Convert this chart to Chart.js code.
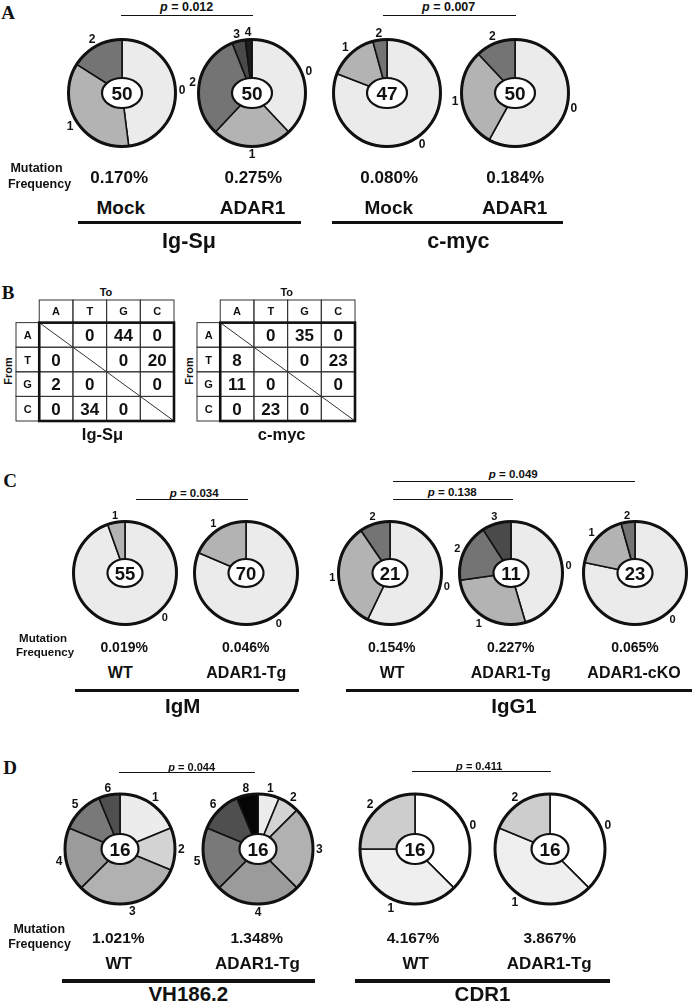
<!DOCTYPE html>
<html><head><meta charset="utf-8">
<script src="https://cdn.jsdelivr.net/npm/chart.js@4.4.1/dist/chart.umd.min.js"></script>
<style>
html,body{margin:0;padding:0;background:#fff;}
#fig{position:relative;width:693px;height:1008px;overflow:hidden;font-family:"Liberation Sans",Arial,sans-serif;font-weight:bold;color:#111;}
.t{position:absolute;white-space:nowrap;line-height:1;transform:translate(-50%,-50%);}
.l{position:absolute;background:#111;}
canvas{position:absolute;}
</style></head><body><div id="fig"></div>
<script>
// ---------- DATA ----------
// clone counts per number of mutations (category labels)
const igSmuCats = ['0','1','2','3','4'];
const igSmuMock = [24,18,8];
const igSmuAdar1 = [19,12,16,2,1];
const cmycCats = ['0','1','2'];
const cmycMock = [38,7,2];
const cmycAdar1 = [29,15,6];
const igmCats = ['0','1'];
const igmWT = [52,3];
const igmTg = [57,13];
const igg1Cats = ['0','1','2','3'];
const igg1WT = [12,7,2];
const igg1Tg = [5,3,2,1];
const igg1cKO = [18,4,1];
const vhWTCats = ['1','2','3','4','5','6'];
const vhWT = [3,2,5,3,2,1];
const vhTgCats = ['1','2','3','4','5','6','8'];
const vhTg = [1,1,4,4,3,2,1];
const cdr1Cats = ['0','1','2'];
const cdr1WT = [6,6,4];
const cdr1Tg = [6,7,3];
// mutation frequencies
const freqA = ['0.170%','0.275%','0.080%','0.184%'];
const freqC = ['0.019%','0.046%','0.154%','0.227%','0.065%'];
const freqD = ['1.021%','1.348%','4.167%','3.867%'];
const groupA = ['Mock','ADAR1','Mock','ADAR1'];
const groupC = ['WT','ADAR1-Tg','WT','ADAR1-Tg','ADAR1-cKO'];
const groupD = ['WT','ADAR1-Tg','WT','ADAR1-Tg'];
const pValues = ['0.012','0.007','0.034','0.049','0.138','0.044','0.411'];
// substitution tables (From row -> To column)
const bases = ['A','T','G','C'];
const igSmuSubs = [[null,0,44,0],[0,null,0,20],[2,0,null,0],[0,34,0,null]];
const cmycSubs  = [[null,0,35,0],[8,null,0,23],[11,0,null,0],[0,23,0,null]];

// ---------- STYLES ----------
const shadeMut = {'0':'#ebebeb','1':'#b3b3b3','2':'#747474','3':'#4a4a4a','4':'#1c1c1c'};
const shadeVH  = {'1':'#ececec','2':'#d3d3d3','3':'#b1b1b1','4':'#9b9b9b','5':'#797979','6':'#4f4f4f','8':'#050505'};
const shadeCDR = {'0':'#ffffff','1':'#efefef','2':'#cdcdcd'};
const FONT = '"Liberation Sans", Arial, sans-serif';

const fig = document.getElementById('fig');
function T(x,y,html,size,extra){
  const d=document.createElement('div'); d.className='t';
  d.style.left=x+'px'; d.style.top=y+'px'; d.style.fontSize=size+'px'; d.innerHTML=html;
  if(extra) Object.assign(d.style, extra);
  fig.appendChild(d);
}
function L(x1,x2,y,h){
  const d=document.createElement('div'); d.className='l';
  d.style.left=x1+'px'; d.style.top=(y-h/2)+'px'; d.style.width=(x2-x1)+'px'; d.style.height=h+'px';
  fig.appendChild(d);
}
function letter(x,y,s){ T(x,y,s,19,{fontFamily:'"Liberation Serif","Times New Roman",serif'}); }
function pLabel(x,y,v,size,x1,x2,ly){ T(x,y,'<i>p</i> = '+v,size); L(x1,x2,ly,1); }

// ---------- PIE PLUGIN ----------
function decoPlugin(cfg){
  return {
    id:'deco',
    afterDatasetsDraw(chart){
      const ctx=chart.ctx;
      const arcs=chart.getDatasetMeta(0).data;
      const p0=arcs[0].getProps(['x','y','outerRadius'],true);
      const x=p0.x, y=p0.y, R=p0.outerRadius;
      ctx.save();
      ctx.strokeStyle='#111'; ctx.fillStyle='#111';
      ctx.beginPath(); ctx.arc(x,y,R,0,Math.PI*2); ctx.lineWidth=3; ctx.stroke();
      ctx.beginPath(); ctx.ellipse(x,y,cfg.rx,cfg.ry,0,0,Math.PI*2);
      ctx.fillStyle='#fff'; ctx.fill(); ctx.lineWidth=2.2; ctx.stroke();
      const total=chart.data.datasets[0].data.reduce((a,b)=>a+b,0);
      ctx.fillStyle='#111'; ctx.textAlign='center'; ctx.textBaseline='alphabetic';
      ctx.font='bold '+cfg.num+'px '+FONT;
      ctx.fillText(String(total), x, y+cfg.num*0.358);
      ctx.font='bold '+cfg.lab+'px '+FONT;
      arcs.forEach((a,i)=>{
        const p=a.getProps(['startAngle','endAngle'],true);
        let m=(p.startAngle+p.endAngle)/2;
        const lab=chart.data.labels[i];
        if(cfg.at && cfg.at[lab]!==undefined) m=(cfg.at[lab]-90)*Math.PI/180;
        const w=ctx.measureText(lab).width, h=cfg.lab*0.72;
        const d=R+3+Math.abs(Math.cos(m))*w/2+Math.abs(Math.sin(m))*h/2;
        ctx.fillText(lab, x+Math.cos(m)*d, y+Math.sin(m)*d+h/2);
      });
      ctx.restore();
    }
  };
}
function pie(cx,cy,R,cats,values,shades,cfg){
  const S=160;
  const cv=document.createElement('canvas'); cv.width=S; cv.height=S;
  cv.style.left=(cx-S/2)+'px'; cv.style.top=(cy-S/2)+'px';
  fig.appendChild(cv);
  const labels=cats.slice(0,values.length);
  new Chart(cv,{
    type:'pie',
    data:{labels:labels,datasets:[{data:values,backgroundColor:labels.map(c=>shades[c]),borderColor:'#111',borderWidth:1.6}]},
    options:{responsive:false,animation:false,events:[],radius:R,layout:{padding:0},
      plugins:{legend:{display:false},tooltip:{enabled:false}}},
    plugins:[decoPlugin(cfg)]
  });
}

// ---------- TABLE PLUGIN ----------
const tablePlugin={
  id:'subsTable',
  afterDatasetsDraw(chart){
    const ctx=chart.ctx, sx=chart.scales.x, sy=chart.scales.y;
    const X=v=>sx.getPixelForValue(v), Y=v=>sy.getPixelForValue(v);
    const x0=sx.min, y0=sy.min;
    ctx.save();
    ctx.strokeStyle='#333'; ctx.lineWidth=1;
    for(let c=0;c<4;c++) ctx.strokeRect(X(c),Y(y0),X(c+1)-X(c),Y(0)-Y(y0));
    for(let r=0;r<4;r++) ctx.strokeRect(X(x0),Y(r),X(0)-X(x0),Y(r+1)-Y(r));
    for(let r=0;r<4;r++) for(let c=0;c<4;c++) ctx.strokeRect(X(c),Y(r),X(c+1)-X(c),Y(r+1)-Y(r));
    ctx.beginPath(); ctx.moveTo(X(0),Y(0)); ctx.lineTo(X(4),Y(4)); ctx.stroke();
    ctx.strokeStyle='#111'; ctx.lineWidth=2.6;
    ctx.strokeRect(X(0),Y(0),X(4)-X(0),Y(4)-Y(0));
    ctx.fillStyle='#111'; ctx.textAlign='center'; ctx.textBaseline='alphabetic';
    ctx.font='bold 11px '+FONT;
    for(let c=0;c<4;c++) ctx.fillText(bases[c], X(c+0.5), Y(y0/2)+4);
    for(let r=0;r<4;r++) ctx.fillText(bases[r], X(x0/2), Y(r+0.5)+4);
    ctx.font='bold 17px '+FONT;
    const meta=chart.getDatasetMeta(0);
    meta.data.forEach((pt,i)=>{
      const raw=chart.data.datasets[0].data[i];
      ctx.fillText(String(raw.v), pt.x, pt.y+6);
    });
    ctx.restore();
  }
};
function table(left,top,matrix){
  const cv=document.createElement('canvas'); cv.width=166; cv.height=129;
  cv.style.left=(left-4)+'px'; cv.style.top=(top-4)+'px';
  fig.appendChild(cv);
  const pts=[];
  matrix.forEach((row,r)=>row.forEach((v,c)=>{ if(v!==null) pts.push({x:c+0.5,y:r+0.5,v:v}); }));
  new Chart(cv,{
    type:'scatter',
    data:{datasets:[{data:pts,pointRadius:0}]},
    options:{responsive:false,animation:false,events:[],layout:{padding:4},
      scales:{x:{type:'linear',min:-0.69,max:4,display:false},y:{type:'linear',min:-0.92,max:4,reverse:true,display:false}},
      plugins:{legend:{display:false},tooltip:{enabled:false}}},
    plugins:[tablePlugin]
  });
}

// ---------- PANEL A ----------
letter(8,12,'A');
pLabel(186.7,7,pValues[0],12.5,121,253.3,15);
pLabel(448.7,7,pValues[1],12.5,383.3,516,15);
const cfgA={rx:20,ry:15,num:19,lab:12};
pie(122,93,53.5,igSmuCats,igSmuMock,shadeMut,cfgA);
pie(252,93,53.5,igSmuCats,igSmuAdar1,shadeMut,cfgA);
pie(386.5,93,53.5,cmycCats,cmycMock,shadeMut,cfgA);
pie(515.3,93,53.5,cmycCats,cmycAdar1,shadeMut,cfgA);
T(36.5,167.5,'Mutation',12.5); T(39.5,184,'Frequency',12.5);
[119.2,253.3,389.2,515.2].forEach((x,i)=>T(x,176.7,freqA[i],17));
[120.8,252.5,388.8,514.7].forEach((x,i)=>T(x,206.7,groupA[i],19));
L(77.7,301,222.7,3.4); L(332,563.3,222.7,3.4);
T(189,241.5,'Ig-S&mu;',21.5); T(458.3,241.5,'c-myc',21.5);

// ---------- PANEL B ----------
letter(8,291.5,'B');
T(106,292,'To',11); T(286.7,292,'To',11);
T(8.3,371,'From',11,{transform:'translate(-50%,-50%) rotate(-90deg)'});
T(189.3,371,'From',11,{transform:'translate(-50%,-50%) rotate(-90deg)'});
table(16,300,igSmuSubs);
table(196.7,300,cmycSubs);
T(102.5,434,'Ig-S&mu;',16.5); T(281.7,434,'c-myc',16.5);

// ---------- PANEL C ----------
letter(10,480,'C');
pLabel(194.2,493.7,pValues[2],11.5,136,248.3,499);
pLabel(513.3,475.3,pValues[3],11.5,393.3,635,481);
pLabel(452.3,492.8,pValues[4],11.5,393.3,512.7,499);
const cfgC={rx:17.5,ry:14,num:18.5,lab:11};
pie(124.7,573.3,51.5,igmCats,igmWT,shadeMut,Object.assign({at:{'0':138}},cfgC));
pie(246,573.3,51.5,igmCats,igmTg,shadeMut,cfgC);
pie(390,573.3,51.5,igg1Cats,igg1WT,shadeMut,cfgC);
pie(510.5,573.3,51.5,igg1Cats,igg1Tg,shadeMut,cfgC);
pie(635.3,573.3,51.5,igg1Cats,igg1cKO,shadeMut,cfgC);
T(43,639,'Mutation',11.5); T(45,652.8,'Frequency',11.5);
[124.2,245.8,391.7,510.8,635].forEach((x,i)=>T(x,646.7,freqC[i],14));
[120.3,246.3,392.2,510.8,634].forEach((x,i)=>T(x,672.8,groupC[i],16));
L(75,299,690.7,3.4); L(346,691.7,690.7,3.4);
T(182.7,705.8,'IgM',20.5); T(514,705.8,'IgG1',20.5);

// ---------- PANEL D ----------
letter(10,767,'D');
pLabel(191.7,766.7,pValues[5],11,119,255,772.3);
pLabel(479.2,765.8,pValues[6],11,411.7,550.7,771.7);
const cfgD={rx:18.5,ry:15,num:19,lab:12};
pie(119.5,848.7,55,vhWTCats,vhWT,shadeVH,cfgD);
pie(258.3,848.7,55,vhTgCats,vhTg,shadeVH,cfgD);
pie(414.7,848.7,55,cdr1Cats,cdr1WT,shadeCDR,cfgD);
pie(550,848.7,55,cdr1Cats,cdr1Tg,shadeCDR,cfgD);
T(39.2,929,'Mutation',12.4); T(39.5,943.7,'Frequency',12.4);
[118.3,256.7,413,549.7].forEach((x,i)=>T(x,938,freqD[i],15.5));
[118.8,257.5,415.8,549.2].forEach((x,i)=>T(x,962.5,groupD[i],17));
L(61.7,315,981,3.5); L(355,610,981,3.5);
T(188.3,994,'VH186.2',20.5); T(482.5,994,'CDR1',20.5);
</script></body></html>
